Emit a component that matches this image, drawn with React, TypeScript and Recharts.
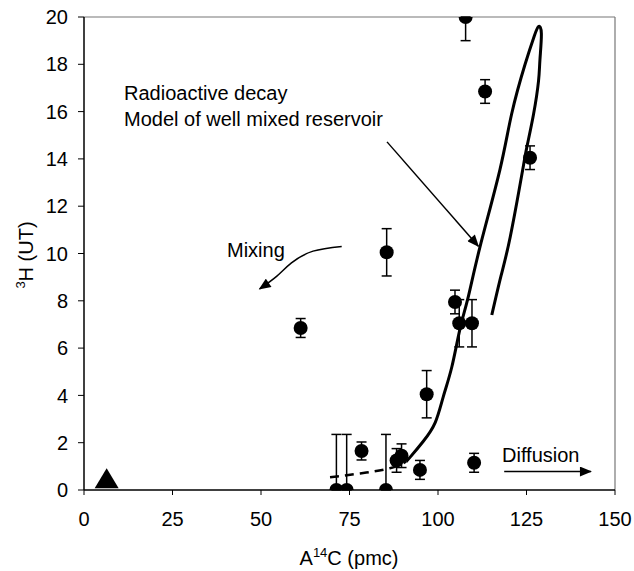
import React from 'react';
import { ComposedChart, Scatter, Line, XAxis, YAxis, ErrorBar, ReferenceLine } from 'recharts';

// measured samples: A14C (pmc) vs 3H (UT)
const sampleC14 = [61.2, 85.5, 107.8, 113.3, 126.0, 104.8, 106.0, 109.6, 96.8, 78.4, 88.3, 89.7, 94.9, 110.2, 71.3, 74.2, 85.3];
const sampleH3 = [6.85, 10.05, 20, 16.85, 14.05, 7.95, 7.05, 7.05, 4.05, 1.65, 1.25, 1.45, 0.85, 1.15, 0, 0, 0];
const errLow = [0.4, 1, 1, 0.5, 0.5, 0.5, 1, 1, 1, 0.38, 0.5, 0.5, 0.4, 0.4, 0, 0, 0];
const errHigh = [0.4, 1, 0, 0.5, 0.5, 0.5, 1, 1, 1, 0.38, 0.5, 0.5, 0.4, 0.4, 2.35, 2.35, 2.35];

// old water end member (triangle)
const oldC14 = [6.4];
const oldH3 = [0.41];

// well mixed reservoir model curve
const modelC14 = [91.0, 92.2, 95.8, 99.2, 101.5, 103.9, 106.2, 108.6, 111.9, 117.5, 120.8, 124.6, 127.2, 128.4, 129.2, 128.8, 128.4, 127.0, 125.1, 123.7, 120.4, 117.8, 115.2];
const modelH3 = [1.2, 1.4, 2.05, 2.85, 3.95, 5.2, 6.8, 8.2, 10.3, 13.55, 15.9, 18.0, 19.2, 19.6, 19.3, 18.2, 17.3, 15.9, 14.5, 13.35, 10.7, 9.05, 7.4];

// dashed extension at low activity
const dashC14 = [69.5, 78, 86.4, 91.0];
const dashH3 = [0.54, 0.7, 0.92, 1.2];

// annotation arrows
const mixingC14 = [72.8, 64.7, 58.6, 54.4, 49.6];
const mixingH3 = [10.3, 10.1, 9.6, 9.03, 8.5];
const decayC14 = [85.6, 111.4];
const decayH3 = [14.72, 10.31];
const diffusionC14 = [118.7, 143.2];
const diffusionH3 = [0.78, 0.78];

const xTicks = [0, 25, 50, 75, 100, 125, 150];
const yTicks = [0, 2, 4, 6, 8, 10, 12, 14, 16, 18, 20];

const toPoints = (xs: number[], ys: number[]) => xs.map((x, i) => ({ x, y: ys[i] }));

const samples = sampleC14.map((x, i) => ({ x, y: sampleH3[i], err: [errLow[i], errHigh[i]] }));
const oldWater = toPoints(oldC14, oldH3);
const model = toPoints(modelC14, modelH3);
const dashed = toPoints(dashC14, dashH3);
const mixing = toPoints(mixingC14, mixingH3);
const decay = toPoints(decayC14, decayH3);
const diffusion = toPoints(diffusionC14, diffusionH3);

const Dot = (props: any) => <circle cx={props.cx} cy={props.cy} r={7} fill="#000" />;
const Tri = (props: any) => (
    <polygon
        points={`${props.cx},${props.cy - 12} ${props.cx - 12},${props.cy + 8} ${props.cx + 12},${props.cy + 8}`}
        fill="#000"
    />
);

const font = { fontSize: 20, fill: '#000' };

export default function App() {
    return (
        <div style={{ position: 'absolute', left: 0, top: 0, fontFamily: '"Liberation Sans", Arial, Helvetica, sans-serif' }}>
            <ComposedChart width={634} height={571} margin={{ top: 17, right: 19, left: 0, bottom: 0 }}>
                <defs>
                    <marker id="arrowHead" viewBox="0 0 12 10" refX="11" refY="5" markerWidth="13" markerHeight="10"
                        markerUnits="userSpaceOnUse" orient="auto">
                        <path d="M0,0 L12,5 L0,10 z" fill="#000" />
                    </marker>
                </defs>
                <XAxis type="number" dataKey="x" domain={[0, 150]} ticks={xTicks} height={81}
                    tickSize={5} tickMargin={17} tick={font} axisLine={{ stroke: '#000', strokeWidth: 1.5 }}
                    tickLine={{ stroke: '#000' }} allowDataOverflow />
                <YAxis type="number" dataKey="y" domain={[0, 20]} ticks={yTicks} width={84}
                    tickSize={6} tickMargin={10} tick={font} axisLine={{ stroke: '#000', strokeWidth: 1.5 }}
                    tickLine={{ stroke: '#000' }} allowDataOverflow />
                <ReferenceLine y={20} stroke="#777" strokeWidth={1.2} />
                <ReferenceLine x={150} stroke="#777" strokeWidth={1.2} />

                <Line data={dashed} dataKey="y" type="natural" stroke="#000" strokeWidth={2.5} strokeDasharray="9 6"
                    dot={false} activeDot={false} isAnimationActive={false} />
                <Line data={model} dataKey="y" type="natural" stroke="#000" strokeWidth={3}
                    dot={false} activeDot={false} isAnimationActive={false} />

                <Line data={mixing} dataKey="y" type="natural" stroke="#000" strokeWidth={1.5} markerEnd="url(#arrowHead)"
                    dot={false} activeDot={false} isAnimationActive={false} />
                <Line data={decay} dataKey="y" type="linear" stroke="#000" strokeWidth={1.5} markerEnd="url(#arrowHead)"
                    dot={false} activeDot={false} isAnimationActive={false} />
                <Line data={diffusion} dataKey="y" type="linear" stroke="#000" strokeWidth={1.5} markerEnd="url(#arrowHead)"
                    dot={false} activeDot={false} isAnimationActive={false} />

                <Scatter data={samples} dataKey="y" shape={Dot} isAnimationActive={false}>
                    <ErrorBar dataKey="err" direction="y" width={5} stroke="#000" strokeWidth={1.5} />
                </Scatter>
                <Scatter data={oldWater} dataKey="y" shape={Tri} isAnimationActive={false} />

                <text x={124} y={100} {...font}>Radioactive decay</text>
                <text x={124} y={126} {...font}>Model of well mixed reservoir</text>
                <text x={227} y={257} {...font}>Mixing</text>
                <text x={502} y={462} {...font}>Diffusion</text>
                <text x={349} y={565} textAnchor="middle" {...font}>
                    A<tspan dy={-8} fontSize={13}>14</tspan><tspan dy={8}>C (pmc)</tspan>
                </text>
                <text transform="translate(33,255) rotate(-90)" textAnchor="middle" {...font}>
                    <tspan dy={-8} fontSize={13}>3</tspan><tspan dy={8}>H (UT)</tspan>
                </text>
            </ComposedChart>
        </div>
    );
}
